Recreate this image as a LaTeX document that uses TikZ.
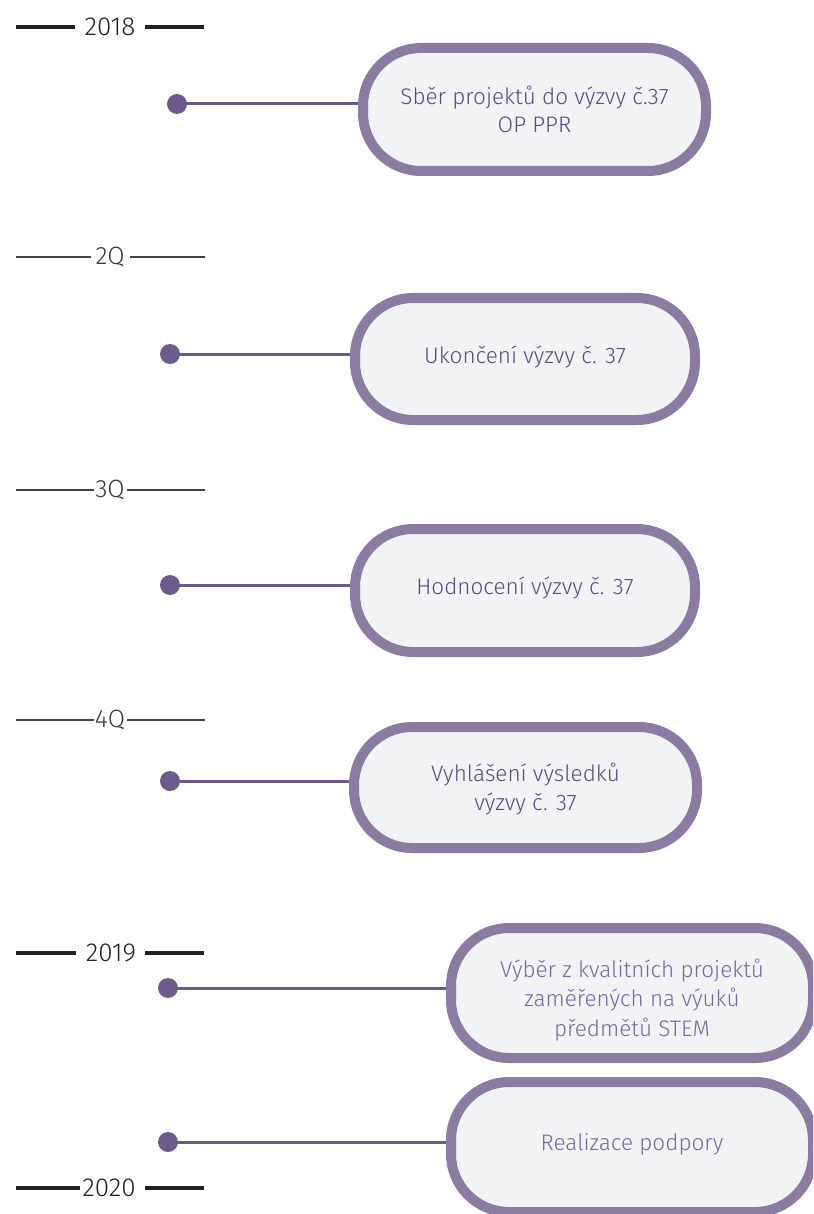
\documentclass[tikz,border=0pt]{standalone}
\usepackage{fontspec}
\setmainfont{Fira Sans Light}
\definecolor{bordc}{HTML}{8C7BA1}
\definecolor{dotc}{HTML}{6D5A8C}
\definecolor{txtc}{HTML}{5B4A80}
\definecolor{txtl}{HTML}{76699A}
\definecolor{fillc}{HTML}{F2F3F5}
\definecolor{inkc}{HTML}{222222}
\begin{document}
\begin{tikzpicture}[x=1pt,y=-1pt,
  pill/.style={draw=bordc, fill=fillc, line width=10pt, rounded corners=58pt, inner sep=0pt},
  ptext/.style={align=center, text=txtc, font=\fontsize{22.5}{28.5}\selectfont, inner sep=0pt},
  ptextl/.style={ptext, text=txtl, font=\fontsize{22.5}{29.5}\selectfont},
  tdot/.style={circle, fill=dotc, minimum size=20pt, inner sep=0pt},
  conn/.style={draw=dotc, line width=3pt},
  yearlbl/.style={text=inkc, font=\fontsize{26}{26}\selectfont, inner sep=0pt},
  qlbl/.style={text=inkc!90, font=\fontsize{25}{25}\selectfont, inner sep=0pt},
  yline/.style={draw=inkc, line width=3.6pt},
  qline/.style={draw=inkc!85, line width=1.2pt}]
\useasboundingbox (0,0) rectangle (813,1214);
\begin{scope}
\clip (0,0) rectangle (813,1214);
% year / quarter labels
\node[yearlbl] (y18) at (110,27) {2018};
\draw[yline] (16,27) coordinate (y18a) -- (75,27) coordinate (y18b);
\draw[yline] (145,27) coordinate (y18c) -- (204,27) coordinate (y18d);
\node[qlbl] (q2) at (110,257) {2Q};
\draw[qline] (16,257) coordinate (q2a) -- (91,257) coordinate (q2b);
\draw[qline] (130,257) coordinate (q2c) -- (205,257) coordinate (q2d);
\node[qlbl] (q3) at (110,490) {3Q};
\draw[qline] (16,490) coordinate (q3a) -- (94,490) coordinate (q3b);
\draw[qline] (127,490) coordinate (q3c) -- (205,490) coordinate (q3d);
\node[qlbl] (q4) at (110,720) {4Q};
\draw[qline] (16,720) coordinate (q4a) -- (94,720) coordinate (q4b);
\draw[qline] (127,720) coordinate (q4c) -- (205,720) coordinate (q4d);
\node[yearlbl] (y19) at (111,953) {2019};
\draw[yline] (16,953) coordinate (y19a) -- (76,953) coordinate (y19b);
\draw[yline] (145,953) coordinate (y19c) -- (204,953) coordinate (y19d);
\node[yearlbl] (y20) at (109,1188) {2020};
\draw[yline] (16,1188) coordinate (y20a) -- (80,1188) coordinate (y20b);
\draw[yline] (145,1188) coordinate (y20c) -- (204,1188) coordinate (y20d);
% boxes
\node[pill, minimum width=343pt, minimum height=123pt] (b1) at (534.5,109.5) {};
\node[pill, minimum width=340pt, minimum height=122pt] (b2) at (525,359) {};
\node[pill, minimum width=340pt, minimum height=123pt] (b3) at (525,590.5) {};
\node[pill, minimum width=343pt, minimum height=121pt] (b4) at (525.5,787.5) {};
\node[pill, minimum width=362pt, minimum height=130pt] (b5) at (632,993) {};
\node[pill, minimum width=362pt, minimum height=130pt] (b6) at (632,1147) {};
% box texts
\node[ptext] (t1) at (534.5,109.5) {Sběr projektů do výzvy č.37\\OP PPR};
\node[ptext] (t2) at (525,357) {Ukončení výzvy č. 37};
\node[ptext] (t3) at (525,588) {Hodnocení výzvy č. 37};
\node[ptext] (t4) at (525.5,789) {Vyhlášení výsledků\\výzvy č. 37};
\node[ptextl] (t5) at (632,1000) {Výběr z kvalitních projektů\\zaměřených na výuků\\předmětů STEM};
\node[ptextl] (t6) at (632,1144) {Realizace podpory};
% dots and connectors
\node[tdot] (d1) at (177,104) {};
\node[tdot] (d2) at (170,354) {};
\node[tdot] (d3) at (170,585) {};
\node[tdot] (d4) at (170,781) {};
\node[tdot] (d5) at (168,988) {};
\node[tdot] (d6) at (168,1142) {};
\foreach \i in {1,...,6}{
  \draw[conn] (d\i.center) -- (d\i -| b\i.west);
}
\end{scope}
\end{tikzpicture}
\end{document}
